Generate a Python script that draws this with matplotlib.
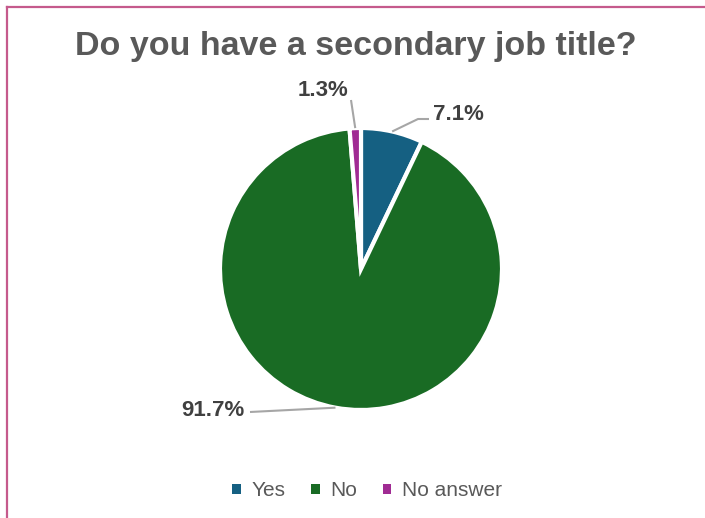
import numpy as np
import matplotlib
matplotlib.use("Agg")
import matplotlib.pyplot as plt
from matplotlib.patches import Patch
from matplotlib.lines import Line2D

# Respuestas a la pregunta del puesto secundario
categorias = ["Yes", "No", "No answer"]
porcentajes = [7.1, 91.7, 1.3]
colores = ["#156082", "#196B24", "#A02B93"]
titulo = "Do you have a secondary job title?"

W, H = 705, 518
fig = plt.figure(figsize=(W / 100, H / 100), dpi=100)
ax = fig.add_axes([0, 0, 1, 1])

# borde rosado arriba y a la izquierda
fig.add_artist(Line2D([7 / W, 1], [1 - 7 / H, 1 - 7 / H], color="#C55A8C", lw=1.6))
fig.add_artist(Line2D([7 / W, 7 / W], [0, 1 - 7 / H], color="#C55A8C", lw=1.6))

cx, cy, r = 361, H - 269, 141
wedges, _ = ax.pie(porcentajes, colors=colores, startangle=90, counterclock=False,
                   center=(cx, cy), radius=r, frame=True,
                   wedgeprops=dict(edgecolor="white", linewidth=3))
ax.set_xlim(0, W)
ax.set_ylim(0, H)
ax.set_aspect("equal")
ax.axis("off")

# etiquetas con lineas guia, en el mismo orden que las categorias
etiquetas = [
    # (codo, fin, posicion texto, alineacion)
    ((418, 119), (429, 119), (433, 114), "left"),
    ((250, 412), (250, 412), (244, 410), "right"),
    ((351, 100), (351, 100), (348, 90), "right"),
]
for w, p, (codo, fin, txt, ha) in zip(wedges, porcentajes, etiquetas):
    ang = np.deg2rad((w.theta1 + w.theta2) / 2)
    x0, y0 = cx + r * np.cos(ang), cy + r * np.sin(ang)
    ax.plot([x0, codo[0], fin[0]], [y0, H - codo[1], H - fin[1]],
            color="#A6A6A6", lw=1.5, solid_capstyle="butt")
    ax.text(txt[0], H - txt[1], f"{p}%", ha=ha, va="center",
            fontsize=16, fontweight="bold", color="#404040", family="Liberation Sans")

fig.text(356 / W, 1 - 47 / H, titulo, ha="center", va="center",
         fontsize=24.5, fontweight="bold", color="#595959", family="Liberation Sans")

handles = [Patch(facecolor=c, edgecolor="none") for c in colores]
leg = fig.legend(handles, categorias, loc="center", bbox_to_anchor=(367 / W, 1 - 491 / H),
                 ncol=3, frameon=False, fontsize=15, handlelength=0.4, handleheight=0.4,
                 handletextpad=0.5, columnspacing=1.25)
for t in leg.get_texts():
    t.set_color("#595959")
    t.set_family("Liberation Sans")

fig.savefig("out.png", dpi=100, facecolor="white")
